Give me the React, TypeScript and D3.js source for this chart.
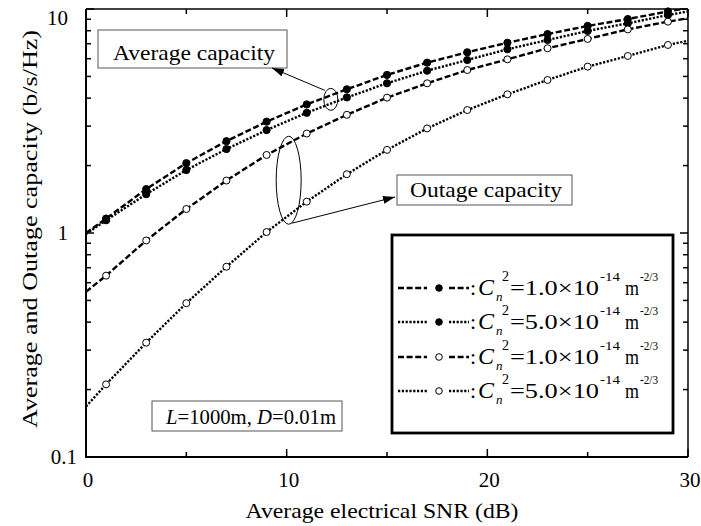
import React from 'react';
import * as d3 from 'd3';

// SNR (dB) points on each curve; markers sit on the odd values
const snr = [0, 1, 3, 5, 7, 9, 11, 13, 15, 17, 19, 21, 23, 25, 27, 29, 30];

// average capacity (filled markers)
const avgCn1 = [1.0, 1.16, 1.57, 2.05, 2.57, 3.14, 3.75, 4.38, 5.08, 5.76, 6.41, 7.07, 7.73, 8.4, 9.02, 9.75, 10.1];
const avgCn5 = [0.99, 1.14, 1.49, 1.91, 2.37, 2.88, 3.44, 4.03, 4.66, 5.3, 5.92, 6.61, 7.27, 7.98, 8.63, 9.4, 9.75];
// outage capacity (open markers)
const outCn1 = [0.547, 0.645, 0.926, 1.28, 1.715, 2.23, 2.78, 3.37, 4.02, 4.66, 5.34, 5.96, 6.68, 7.35, 8.11, 8.78, 9.09];
const outCn5 = [0.168, 0.211, 0.324, 0.486, 0.707, 1.01, 1.38, 1.83, 2.35, 2.93, 3.54, 4.16, 4.82, 5.53, 6.17, 6.91, 7.22];

const xTicks = [0, 10, 20, 30];
const xMinorTicks = [5, 15, 25];
const yTicks = [0.1, 1, 10];
const yTickLabels = ['0.1', '1', '10'];
const yMinorTicks = [0.2, 0.3, 0.4, 0.5, 0.6, 0.7, 0.8, 0.9, 2, 3, 4, 5, 6, 7, 8, 9];
const legendCn = ['1.0', '5.0', '1.0', '5.0'];

const W = 701, H = 526;
const DASHED = '6,2.6';
const DOTTED = '2.2,1.6';

const series = [
  { values: avgCn1, dash: DASHED, filled: true },
  { values: avgCn5, dash: DOTTED, filled: true },
  { values: outCn1, dash: DASHED, filled: false },
  { values: outCn5, dash: DOTTED, filled: false },
];

export default function App() {
  const x = d3.scaleLinear().domain([0, 30]).range([86, 688]);
  const y = d3.scaleLog().domain([0.1, 10]).range([457, 9]);
  const [x0, x1] = x.range();
  const [y0, y1] = y.range();

  const line = d3.line<number>()
    .x((_, i) => x(snr[i]))
    .y(d => y(d));

  const legendRows = [295, 329, 364, 398];
  const fit = 'spacingAndGlyphs';

  return (
    <div style={{ position: 'absolute', left: 0, top: 0 }}>
      <svg width={W} height={H} style={{ display: 'block', background: '#fff' }}>
        <style>{`text { font-family: 'Liberation Serif', 'Times New Roman', Times, serif; fill: #000; }`}</style>
        <defs>
          <clipPath id="plot">
            <rect x={x0} y={y1} width={x1 - x0} height={y0 - y1} />
          </clipPath>
          <marker id="arrow" viewBox="0 0 12 8" refX="12" refY="4" markerWidth="12" markerHeight="8"
            markerUnits="userSpaceOnUse" orient="auto">
            <path d="M0,0 L12,4 L0,8 Z" fill="#000" />
          </marker>
        </defs>

        {/* curves */}
        <g clipPath="url(#plot)">
          {series.map((s, k) => (
            <path key={k} d={line(s.values) || ''} fill="none" stroke="#000"
              strokeWidth={2.4} strokeDasharray={s.dash} />
          ))}
        </g>
        {series.map((s, k) => (
          <g key={'m' + k}>
            {s.values.map((v, i) => (snr[i] % 2 === 1 ? (
              <circle key={i} cx={x(snr[i])} cy={y(v)} r={s.filled ? 3.6 : 3.5}
                fill={s.filled ? '#000' : '#fff'} stroke="#000" strokeWidth={1} />
            ) : null))}
          </g>
        ))}

        {/* frame */}
        <line x1={x0} x2={x0} y1={y1} y2={y0} stroke="#000" strokeWidth={2} />
        <line x1={x0 - 1} x2={x1} y1={y0} y2={y0} stroke="#000" strokeWidth={2} />
        <line x1={x0} x2={x1} y1={y1} y2={y1} stroke="#000" strokeWidth={1.5} />
        <line x1={x1} x2={x1} y1={y1} y2={y0} stroke="#000" strokeWidth={1.5} />

        {/* x ticks, inward on bottom and top */}
        {xTicks.concat(xMinorTicks).map(t => {
          const len = xTicks.includes(t) ? 8 : 5;
          return (
            <g key={'xt' + t} stroke="#000" strokeWidth={1.5}>
              <line x1={x(t)} x2={x(t)} y1={y0} y2={y0 - len} />
              <line x1={x(t)} x2={x(t)} y1={y1} y2={y1 + len} />
            </g>
          );
        })}
        {/* y ticks, inward on left and right */}
        {yTicks.concat(yMinorTicks).map(t => {
          const len = yTicks.includes(t) ? 8 : 5;
          return (
            <g key={'yt' + t} stroke="#000" strokeWidth={1.5}>
              <line x1={x0} x2={x0 + len} y1={y(t)} y2={y(t)} />
              <line x1={x1} x2={x1 - len} y1={y(t)} y2={y(t)} />
            </g>
          );
        })}

        {/* tick labels */}
        {xTicks.map(t => (
          <text key={'xl' + t} x={x(t) + 2} y={487} fontSize={21} textAnchor="middle">{t}</text>
        ))}
        {yTicks.map((t, i) => (
          <text key={'yl' + t} x={t < 1 ? 77 : 68} y={t === 10 ? y(t) + 16 : y(t) + 7}
            fontSize={21} textAnchor="end">{yTickLabels[i]}</text>
        ))}

        {/* axis titles */}
        <text x={382} y={518} fontSize={21} textAnchor="middle" textLength={273}
          lengthAdjust={fit}>Average electrical SNR (dB)</text>
        <text transform="translate(37,229) rotate(-90)" fontSize={22} textAnchor="middle"
          textLength={398} lengthAdjust={fit}>Average and Outage capacity (b/s/Hz)</text>

        {/* annotations */}
        <rect x={98} y={30} width={189} height={38} fill="#fff" stroke="#555" strokeWidth={1} />
        <text x={194} y={60} fontSize={21} textAnchor="middle" textLength={162}
          lengthAdjust={fit}>Average capacity</text>
        <ellipse cx={x(12.2)} cy={y(3.95)} rx={7} ry={11} fill="none" stroke="#000" strokeWidth={1} />
        <line x1={x(12.2) - 6} y1={y(3.95) - 9} x2={272} y2={68} stroke="#000" strokeWidth={1}
          markerEnd="url(#arrow)" />

        <rect x={397} y={175} width={175} height={30} fill="#fff" stroke="#555" strokeWidth={1} />
        <text x={486} y={197} fontSize={21} textAnchor="middle" textLength={152}
          lengthAdjust={fit}>Outage capacity</text>
        <ellipse cx={x(10.1)} cy={y(1.72)} rx={12.5} ry={44} fill="none" stroke="#000" strokeWidth={1} />
        <line x1={x(10.1) + 3} y1={y(1.72) + 43} x2={395} y2={197} stroke="#000" strokeWidth={1}
          markerEnd="url(#arrow)" />

        <rect x={152} y={401} width={190} height={30} fill="#fff" stroke="#555" strokeWidth={1} />
        <text x={166} y={424} fontSize={21} textLength={170} lengthAdjust={fit}>
          <tspan fontStyle="italic">L</tspan>=1000m, <tspan fontStyle="italic">D</tspan>=0.01m
        </text>

        {/* legend */}
        <rect x={392} y={235} width={281} height={198} fill="#fff" stroke="#000" strokeWidth={2.8} />
        {series.map((s, k) => {
          const by = legendRows[k];
          const cy = by - 7;
          return (
            <g key={'lg' + k}>
              <line x1={398} x2={427} y1={cy} y2={cy} stroke="#000" strokeWidth={2.4} strokeDasharray={s.dash} />
              <line x1={449} x2={469} y1={cy} y2={cy} stroke="#000" strokeWidth={2.4} strokeDasharray={s.dash} />
              <circle cx={439} cy={cy} r={3.3} fill={s.filled ? '#000' : '#fff'}
                stroke="#000" strokeWidth={1} />
              <text x={470} y={by} fontSize={22}>:</text>
              <text x={478} y={by} fontSize={24} fontStyle="italic">C</text>
              <text x={496} y={by + 6} fontSize={13} fontStyle="italic">n</text>
              <text x={502} y={by - 14} fontSize={14}>2</text>
              <text x={510} y={by} fontSize={22} textLength={89} lengthAdjust={fit}>
                ={legendCn[k]}×10
              </text>
              <text x={600} y={by - 14} fontSize={13} textLength={20} lengthAdjust={fit}>-14</text>
              <text x={625} y={by} fontSize={22} textLength={14} lengthAdjust={fit}>m</text>
              <text x={640} y={by - 14} fontSize={13} textLength={18} lengthAdjust={fit}>-2/3</text>
            </g>
          );
        })}
      </svg>
    </div>
  );
}
